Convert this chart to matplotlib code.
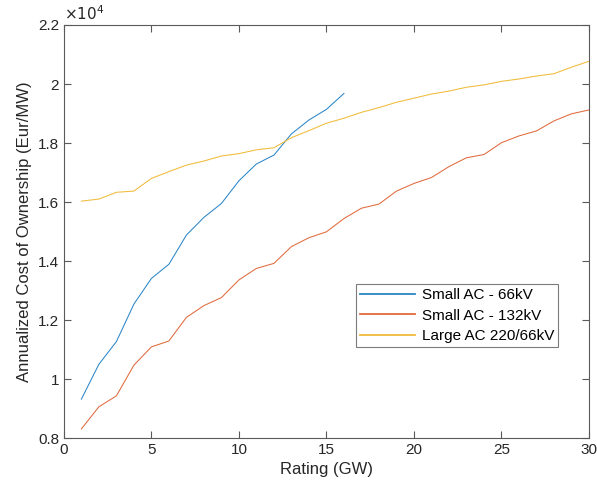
import numpy as np
import matplotlib.pyplot as plt
from matplotlib.ticker import FuncFormatter

plt.rcParams['font.family'] = ['Liberation Sans', 'DejaVu Sans']

rating_small = np.arange(1, 17)
rating_large = np.arange(1, 31)

small_66 = [9320, 10500, 11270, 12540, 13410, 13890, 14880, 15480, 15950, 16720,
            17290, 17590, 18310, 18780, 19140, 19680]
small_132 = [8310, 9060, 9430, 10470, 11090, 11290, 12090, 12490, 12760, 13360,
             13750, 13920, 14490, 14790, 14990, 15440, 15790, 15930, 16370, 16630,
             16830, 17200, 17500, 17610, 18010, 18240, 18410, 18750, 18990, 19120]
large_220 = [16030, 16100, 16330, 16370, 16800, 17030, 17250, 17390, 17560, 17640,
             17770, 17840, 18180, 18420, 18670, 18840, 19040, 19200, 19380, 19520,
             19660, 19760, 19890, 19970, 20090, 20170, 20270, 20350, 20570, 20770]

labels = ["Small AC - 66kV", "Small AC - 132kV", "Large AC 220/66kV"]
colors = ["#2a86c8", "#e06a3c", "#f0bb3a"]

fig = plt.figure(figsize=(5.97, 4.90), dpi=100)
ax = fig.add_axes([0.107, 0.106, 0.8796, 0.843])

ax.plot(rating_small, np.array(small_66) / 1e4, color=colors[0], lw=0.75, label=labels[0])
ax.plot(rating_large, np.array(small_132) / 1e4, color=colors[1], lw=0.75, label=labels[1])
ax.plot(rating_large, np.array(large_220) / 1e4, color=colors[2], lw=0.75, label=labels[2])

ax.set_xlim(0, 30)
ax.set_ylim(0.8, 2.2)
ax.set_xticks(np.arange(0, 31, 5))
ax.set_yticks(np.arange(0.8, 2.21, 0.2))
ax.yaxis.set_major_formatter(FuncFormatter(lambda v, p: "%g" % round(v, 2)))

for s in ax.spines.values():
    s.set_color("#5a5a5a")
    s.set_linewidth(0.8)
ax.tick_params(direction="in", top=True, right=True, length=5, width=0.8,
               colors="#5a5a5a", labelsize=11, labelcolor="#262626")

ax.set_xlabel("Rating (GW)", fontsize=12, color="#262626")
ax.set_ylabel("Annualized Cost of Ownership (Eur/MW)", fontsize=12, color="#262626")
ax.text(0.0, 1.005, r"$\times10^4$", transform=ax.transAxes, fontsize=11,
        color="#262626", ha="left", va="bottom")

leg = ax.legend(loc="upper left", bbox_to_anchor=(0.556, 0.372), fancybox=False,
                fontsize=11, borderpad=0.25, handlelength=3.6, labelspacing=0.42,
                handletextpad=0.5, borderaxespad=0)
leg.get_frame().set_edgecolor("#5a5a5a")
leg.get_frame().set_linewidth(0.8)
for h in leg.get_lines():
    h.set_linewidth(1.3)

fig.savefig("out.png", dpi=100)
